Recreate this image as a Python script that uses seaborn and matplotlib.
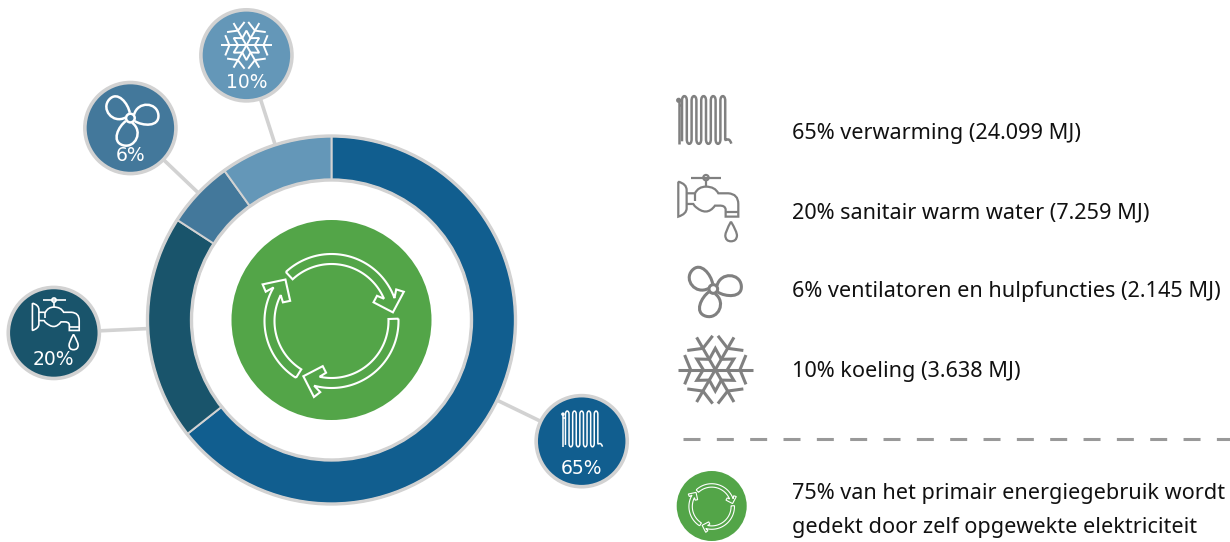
import matplotlib
matplotlib.use("Agg")
import matplotlib.pyplot as plt
from matplotlib.patches import Circle, PathPatch
from matplotlib.path import Path
from matplotlib.transforms import Affine2D
import numpy as np
import pandas as pd
import seaborn as sns

# Data
categories = ["verwarming", "sanitair warm water", "ventilatoren en hulpfuncties", "koeling"]
percent = [65, 20, 6, 10]
mj_labels = ["24.099", "7.259", "2.145", "3.638"]
colors = ["#115e8f", "#19546b", "#43789b", "#6497b8"]
total_note = ["75% van het primair energiegebruik wordt", "gedekt door zelf opgewekte elektriciteit"]

GREY = "#d2d2d2"
ICON_GREY = "#808080"
GREEN = "#53a548"
CX, CY = 331.5, 320

sns.set_theme(style="white")
plt.rcParams["font.family"] = ["DejaVu Sans"]
palette = sns.color_palette(colors)

fig, ax = plt.subplots(figsize=(12.3, 5.42), dpi=100)
fig.subplots_adjust(0, 0, 1, 1)


def svg(s):
    # tiny path reader, only M L C Q
    toks = s.split()
    verts, codes, i = [], [], 0
    kinds = {"M": (1, Path.MOVETO), "L": (1, Path.LINETO), "Q": (2, Path.CURVE3), "C": (3, Path.CURVE4)}
    while i < len(toks):
        n, code = kinds[toks[i]]
        i += 1
        for _ in range(n):
            verts.append((float(toks[i]), float(toks[i + 1])))
            codes.append(code)
            i += 2
    return Path(verts, codes)


def ring(x, y, r):
    return Path.circle((x, y), r)


def draw_icon(paths, origin, center, s, color, lw):
    tr = Affine2D().translate(-origin[0], -origin[1]).scale(s).translate(*center)
    for p in paths:
        ax.add_patch(PathPatch(p.transformed(tr), fill=False, ec=color, lw=lw, zorder=6,
                               capstyle="butt", joinstyle="miter"))


def radiator_paths():
    xs = [30 + 14.4 * i for i in range(10)]
    s = "M %.1f 148" % xs[0]
    for i, x in enumerate(xs[:-1]):
        nx = xs[i + 1]
        if i % 2 == 0:
            s += " L %.1f 26 C %.1f 8 %.1f 8 %.1f 26" % (x, x, nx, nx)
        else:
            s += " L %.1f 142 C %.1f 160 %.1f 160 %.1f 142" % (x, x, nx, nx)
    s += " L %.1f 140 C %.1f 152 170 130 178 155" % (xs[-1], xs[-1])
    return [svg(s), svg("M 20 25 L 20 155"), svg("M 20 40 L 30 40"), ring(20, 25, 4)]


def tap_paths():
    return [
        svg("M 55 305 L 55 410 Q 80 402 80 385 L 80 330 Q 80 312 55 305"),
        svg("M 80 340 L 105 340 Q 115 320 138 320 Q 165 320 175 340 L 205 340 Q 235 342 235 372 L 235 410 L 197 410 L 197 388 Q 195 376 178 377 L 165 377 Q 140 412 104 378 L 100 372 L 80 372"),
        svg("M 105 340 L 105 362"),
        svg("M 197 395 L 235 395"),
        svg("M 94 293 L 183 293"),
        ring(138, 293, 8),
        svg("M 138 301 L 138 320"),
        svg("M 213 425 Q 196 455 196 467 Q 197 484 213 484 Q 230 484 231 467 Q 231 455 213 425"),
    ]


def fan_paths():
    lobe = svg("M 11 -10 C 22 -52 80 -48 84 -10 C 88 28 36 24 13 9")
    out = [lobe.transformed(Affine2D().rotate_deg(a)) for a in (0, 112, 228)]
    out.append(ring(0, 0, 13))
    return out


def snow_paths():
    out = []
    for a in range(0, 360, 60):
        rot = Affine2D().rotate_deg(a)
        out.append(svg("M 0 0 L 112 0").transformed(rot))
        out.append(svg("M 92 -44 L 74 0 L 92 44").transformed(rot))
    star = []
    for i in range(12):
        t = np.deg2rad(30 * i)
        r = 36 if i % 2 == 0 else 64
        star.append((r * np.cos(t), r * np.sin(t)))
    star.append(star[0])
    out.append(Path(star))
    return out


def arrow_paths():
    def pol(r, a):
        t = np.deg2rad(a)
        return (r * np.sin(t), -r * np.cos(t))
    out = []
    # tail and tip angle of each arrow, clockwise from the top
    for a0, a2 in [(-43, 82), (88, 207), (212, 312)]:
        outer = [pol(67, a) for a in np.linspace(a0, a2 - 12, 50)]
        inner = [pol(57, a) for a in np.linspace(a2 - 15, a0, 50)]
        head = [pol(72, a2 - 18), pol(78, a2 - 14), pol(62, a2), pol(46, a2 - 16), pol(52, a2 - 21)]
        pts = outer + head + inner + [outer[0]]
        out.append(Path(pts))
    return out


# Ring
wedges, _ = ax.pie(
    percent, colors=palette, startangle=-90, counterclock=True, center=(CX, CY), radius=184,
    wedgeprops=dict(width=44, edgecolor=GREY, linewidth=1.4), frame=True,
)
for w in wedges:
    w.set_zorder(3)
ax.add_patch(Circle((CX, CY), 184, fill=False, ec=GREY, lw=2.4, zorder=4))
ax.add_patch(Circle((CX, CY), 140, fill=False, ec=GREY, lw=2.4, zorder=4))
ax.add_patch(Circle((CX, 320), 100, fc=GREEN, ec="none", zorder=4))

# Bubbles sit on the middle of each slice
share = np.array(percent) / sum(percent)
mid = np.deg2rad((np.cumsum(share) - share / 2) * 360)
bubbles = pd.DataFrame({
    "x": CX + 278 * np.sin(mid),
    "y": CY - 278 * np.cos(mid),
    "cat": categories,
})
for x, y, m in zip(bubbles["x"], bubbles["y"], mid):
    ax.plot([CX + 184 * np.sin(m), x], [CY - 184 * np.cos(m), y], color=GREY, lw=2.6, zorder=1,
            solid_capstyle="butt")
sns.scatterplot(data=bubbles, x="x", y="y", hue="cat", palette=palette, s=4300, edgecolor=GREY,
                linewidth=2.6, legend=False, ax=ax, zorder=5)

for p, x, y in zip(percent, bubbles["x"], bubbles["y"]):
    ax.text(x, y + 27, "%d%%" % p, color="white", fontsize=13.5, ha="center", va="center", zorder=7)

# white icons in the bubbles
xb, yb = bubbles["x"].values, bubbles["y"].values
draw_icon(radiator_paths(), (99, 85), (xb[0] + 1, yb[0] - 12), 0.25, "white", 1.1)
draw_icon(tap_paths(), (145, 385), (xb[1] + 2, yb[1] - 9), 0.26, "white", 1.2)
draw_icon(fan_paths(), (0, 0), (xb[2], yb[2] - 10), 0.333, "white", 1.8)
draw_icon(snow_paths(), (0, 0), (xb[3], yb[3] - 10), 0.23, "white", 1.4)
draw_icon(arrow_paths(), (0, 0), (CX, CY + 1), 1.0, "white", 1.5)

# Legend on the right
rows_y = [134, 213, 292, 372]
legend_font = "Noto Sans"
for p, c, m, y in zip(percent, categories, mj_labels, rows_y):
    ax.text(792, y, "%d%% %s (%s MJ)" % (p, c, m), family=legend_font, fontsize=15.6, color="#111111",
            ha="left", va="center")
draw_icon(radiator_paths(), (99, 85), (705, 120.3), 1 / 3, ICON_GREY, 1.8)
draw_icon(tap_paths(), (145, 385), (708.3, 208.3), 1 / 3, ICON_GREY, 1.6)
draw_icon(fan_paths(), (0, 0), (713.3, 289), 1 / 3, ICON_GREY, 2.2)
draw_icon(snow_paths(), (0, 0), (715.3, 369.7), 1 / 3, ICON_GREY, 2.2)

ax.plot([682.7, 1230], [439, 439], color="#999999", lw=2.2, linestyle=(0, (5.56, 5.35)))

ax.add_patch(Circle((711.7, 506), 35, fc=GREEN, ec="none", zorder=4))
draw_icon(arrow_paths(), (0, 0), (711.7, 506.5), 0.34, "white", 0.8)
for line, y in zip(total_note, [494, 528]):
    ax.text(792, y, line, family=legend_font, fontsize=15.6, color="#111111", ha="left", va="center")

ax.set_aspect("equal")
ax.set_xlim(0, 1230)
ax.set_ylim(542, 0)
ax.axis("off")
fig.savefig("out.png", dpi=100)
